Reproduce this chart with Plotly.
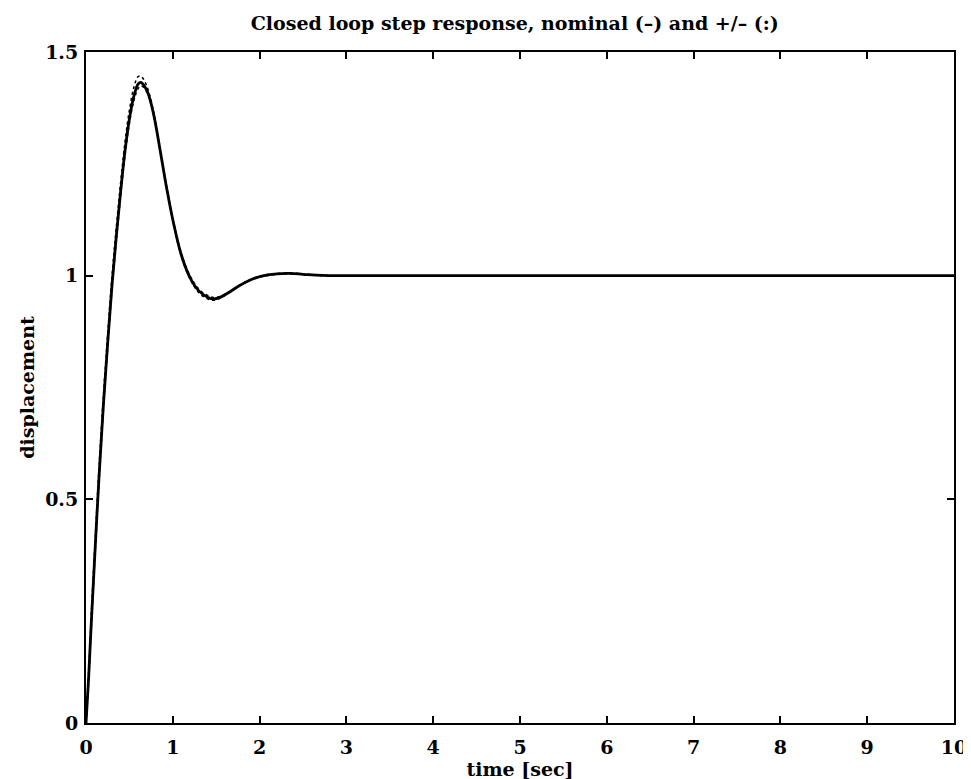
import plotly.graph_objects as go

# time samples [sec]
t = [0, 0.03, 0.06, 0.1, 0.15, 0.2, 0.25, 0.3, 0.35, 0.4, 0.45, 0.5, 0.55, 0.6, 0.63,
     0.67, 0.72, 0.78, 0.85, 0.93, 1.0, 1.1, 1.2, 1.3, 1.4, 1.47, 1.55, 1.65, 1.77,
     1.9, 2.05, 2.2, 2.35, 2.5, 2.65, 2.8, 3, 4, 5, 6, 7, 8, 9, 10]

# nominal closed loop step response
nominal = [0, 0.10, 0.22, 0.37, 0.55, 0.71, 0.85, 0.98, 1.09, 1.19, 1.28, 1.35, 1.40,
           1.428, 1.432, 1.425, 1.405, 1.36, 1.285, 1.195, 1.125, 1.045, 0.995, 0.966,
           0.952, 0.948, 0.952, 0.963, 0.978, 0.991, 1.000, 1.004, 1.005, 1.003, 1.001,
           1.000, 1.0, 1.0, 1.0, 1.0, 1.0, 1.0, 1.0, 1.0]

# perturbed responses (+ and -)
upper = [0, 0.11, 0.24, 0.39, 0.57, 0.73, 0.87, 1.00, 1.11, 1.21, 1.30, 1.37, 1.42,
         1.445, 1.446, 1.437, 1.413, 1.365, 1.29, 1.195, 1.123, 1.042, 0.992, 0.962,
         0.948, 0.945, 0.950, 0.962, 0.978, 0.992, 1.001, 1.005, 1.006, 1.004, 1.001,
         1.000, 1.0, 1.0, 1.0, 1.0, 1.0, 1.0, 1.0, 1.0]
lower = [0, 0.09, 0.21, 0.36, 0.54, 0.70, 0.84, 0.97, 1.08, 1.18, 1.27, 1.34, 1.39,
         1.418, 1.424, 1.420, 1.402, 1.358, 1.285, 1.198, 1.128, 1.049, 0.999, 0.970,
         0.956, 0.951, 0.954, 0.964, 0.979, 0.991, 0.999, 1.003, 1.004, 1.003, 1.001,
         1.000, 1.0, 1.0, 1.0, 1.0, 1.0, 1.0, 1.0, 1.0]

x_ticks = [0, 1, 2, 3, 4, 5, 6, 7, 8, 9, 10]
y_ticks = [0, 0.5, 1, 1.5]
y_tick_labels = ["0", "0.5", "1", "1.5"]

FONT = dict(family="DejaVu Serif", size=19, color="black", weight="bold")

fig = go.Figure()
for arr in (upper, lower):
    fig.add_trace(go.Scatter(x=t, y=arr, mode="lines",
                             line=dict(color="black", width=1.5, dash="dot", shape="spline"),
                             showlegend=False, hoverinfo="skip"))
fig.add_trace(go.Scatter(x=t, y=nominal, mode="lines",
                         line=dict(color="black", width=2.8, shape="spline"),
                         showlegend=False))

axis_common = dict(showgrid=False, zeroline=False, showline=True, linecolor="black",
                   linewidth=2, mirror="ticks", ticks="inside", ticklen=7,
                   tickwidth=1.5, tickcolor="black", tickfont=FONT)

fig.update_xaxes(range=[0, 10], tickvals=x_ticks, ticktext=[str(v) for v in x_ticks],
                 ticklabelstandoff=6,
                 title=dict(text="time [sec]", font=FONT, standoff=4), **axis_common)
fig.update_yaxes(range=[0, 1.5], tickvals=y_ticks, ticktext=y_tick_labels,
                 ticklabelstandoff=2,
                 title=dict(text="displacement", font=FONT, standoff=5), **axis_common)

fig.update_layout(
    width=971, height=779,
    margin=dict(l=78, r=19, t=44, b=63),
    paper_bgcolor="white", plot_bgcolor="white",
    font=FONT,
    title=dict(text="Closed loop step response, nominal (\u2013) and +/\u2013 (:)",
               xref="paper", x=0.494, xanchor="center",
               y=1 - 15 / 779, yanchor="middle", font=FONT),
)

fig.write_html("out.html")
